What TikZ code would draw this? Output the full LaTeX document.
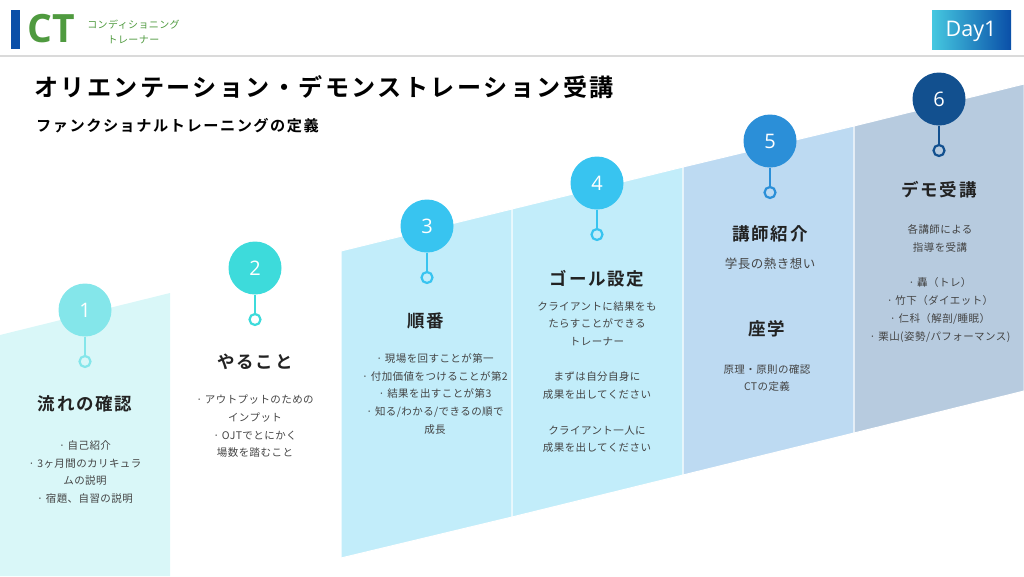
\documentclass[tikz,border=0pt]{standalone}
\usepackage{fontspec}
\setmainfont{Noto Sans CJK JP}
\newfontfamily\latinfont{Open Sans}
\newfontfamily\bodyfont[LetterSpace=4]{Noto Sans CJK JP}
\newfontfamily\headfont[LetterSpace=10,BoldFont={Noto Sans CJK JP Bold}]{Noto Sans CJK JP}
\usetikzlibrary{calc}
\definecolor{barblue}{HTML}{0A4FA8}
\definecolor{dayleft}{HTML}{45C8E0}
\definecolor{ctgreen}{HTML}{4F9A3F}
\definecolor{rulegray}{HTML}{DADADA}
\definecolor{bodygray}{HTML}{444444}
\definecolor{headgray}{HTML}{222222}
\definecolor{panelA}{HTML}{D9F7F8}
\definecolor{panelB}{HTML}{C2EDFA}
\definecolor{panelC}{HTML}{BDDAF2}
\definecolor{panelD}{HTML}{B7CBDF}
\definecolor{numA}{HTML}{84E6EA}
\definecolor{numB}{HTML}{3DDBDB}
\definecolor{numC}{HTML}{38C4F0}
\definecolor{numD}{HTML}{2B8FD8}
\definecolor{numE}{HTML}{12508F}
\tikzset{
    panel/.style={draw=white, line width=1pt},
    head/.style={font=\headfont\bfseries\fontsize{17.5}{20}\selectfont, text=headgray},
    body/.style={font=\bodyfont\fontsize{10.5}{17.7}\selectfont, text=bodygray, align=center}
}

\begin{document}
\begin{tikzpicture}[x=1pt,y=-1pt]
    \useasboundingbox (0,0) rectangle (1024,576);

    % header
    \fill [barblue] (11,10) rectangle (20,49);
    \node (ct) at (51,28.5) [ctgreen, font=\latinfont\bfseries\fontsize{39}{42}\selectfont] {CT};
    \node (sub) at (133.5,32) [ctgreen, align=center, font=\bodyfont\fontsize{10}{15}\selectfont] {コンディショニング\\トレーナー};
    \draw [rulegray, line width=2pt] (0,56) -- (1024,56);
    \shade [left color=dayleft, right color=barblue] (932,10) rectangle (1011,49);
    \node (day) at (971,31) [white, font=\latinfont\fontsize{21.5}{24}\selectfont] {Day1};

    \node (title) at (324,87) [black, font=\headfont\bfseries\fontsize{24.1}{28}\selectfont] {オリエンテーション・デモンストレーション受講};
    \node (lead) at (177.5,126) [black, font=\headfont\bfseries\fontsize{15.2}{18}\selectfont] {ファンクショナルトレーニングの定義};

    % slanted panels
    \fill [panelA] (0,335) -- (170,293) -- (170,576) -- (0,576) -- cycle;
    \filldraw [panel, fill=panelB] (341,251) -- (512,209) -- (512,517) -- (341,558) -- cycle;
    \filldraw [panel, fill=panelB] (512,209) -- (683,167) -- (683,475) -- (512,517) -- cycle;
    \filldraw [panel, fill=panelC] (683,167) -- (854,126) -- (854,433) -- (683,475) -- cycle;
    \filldraw [panel, fill=panelD] (854,126) -- (1024,84) -- (1024,391) -- (854,433) -- cycle;

    % numbered pins
    \foreach \n/\x/\y/\c in {1/85/310/numA, 2/255/268/numB, 3/427/226/numC, 4/597/183/numC, 5/770/141/numD, 6/939/99/numE}
        {
            \node (pin\n) at (\x,\y) [circle, fill=\c, minimum size=53pt, inner sep=0pt, text=white, font=\latinfont\fontsize{20}{22}\selectfont] {\n};
            \node (dot\n) at ($(pin\n) + (0,51.5)$) [circle, draw=\c, line width=2.2pt, minimum size=11pt, inner sep=0pt] {};
            \draw [\c, line width=2.5pt] (pin\n) -- (dot\n);
        }

    % texts
    \node (headA) at (85,404) [head] {流れの確認};
    \node (bodyA) at (85,472) [body] {· 自己紹介\\· 3ヶ月間のカリキュラ\\ムの説明\\· 宿題、自習の説明};

    \node (headB) at (255,362) [head] {やること};
    \node (bodyB) at (255,426.5) [body] {· アウトプットのための\\インプット\\· OJTでとにかく\\場数を踏むこと};

    \node (headC) at (426,321) [head] {順番};
    \node (bodyC) at (435,394) [body] {· 現場を回すことが第一\\· 付加価値をつけることが第2\\· 結果を出すことが第3\\· 知る/わかる/できるの順で\\成長};

    \node (headD) at (597,279) [head] {ゴール設定};
    \node (bodyD) at (597,377) [body] {クライアントに結果をも\\たらすことができる\\トレーナー\\ \\まずは自分自身に\\成果を出してください\\ \\クライアント一人に\\成果を出してください};

    \node (headE) at (770,234) [head] {講師紹介};
    \node (bodyE) at (770,264) [body, font=\bodyfont\fontsize{12.5}{17.7}\selectfont] {学長の熱き想い};
    \node (headF) at (767,329) [head] {座学};
    \node (bodyF) at (767,378) [body] {原理・原則の確認\\CTの定義};

    \node (headG) at (939,190) [head] {デモ受講};
    \node (bodyG) at (940,283.5) [body] {各講師による\\指導を受講\\ \\· 轟（トレ）\\· 竹下（ダイエット）\\· 仁科（解剖/睡眠）\\· 栗山(姿勢/パフォーマンス)};
\end{tikzpicture}
\end{document}
